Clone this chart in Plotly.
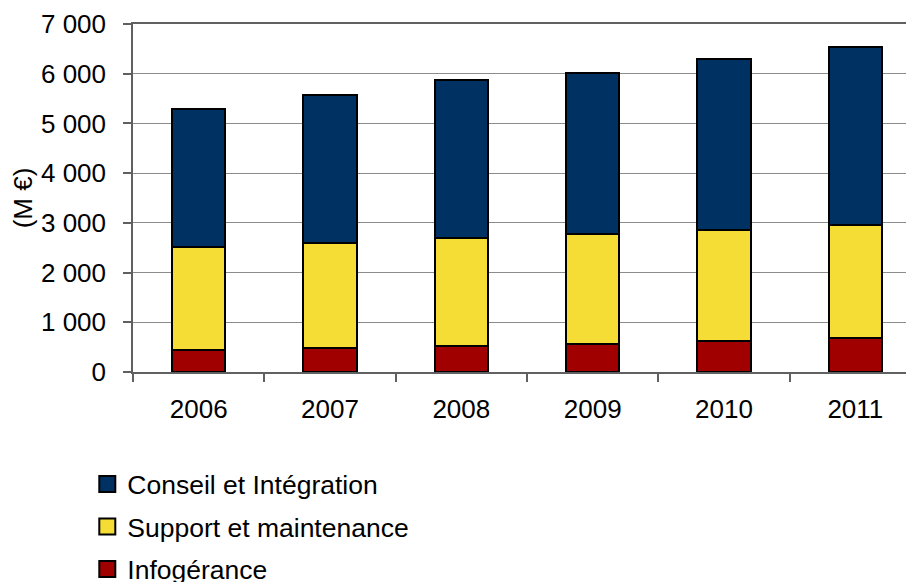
import plotly.graph_objects as go

years = ["2006", "2007", "2008", "2009", "2010", "2011"]
infogerance = [440, 480, 520, 570, 630, 685]
support = [2075, 2120, 2170, 2210, 2230, 2265]
conseil = [2770, 2980, 3180, 3240, 3430, 3590]

series = [
    ("Infogérance", infogerance, "#A10000", 3),
    ("Support et maintenance", support, "#F6DD35", 2),
    ("Conseil et Intégration", conseil, "#003163", 1),
]

FONT = "Liberation Sans, Arial, sans-serif"

fig = go.Figure()
for name, vals, col, rank in series:
    fig.add_trace(go.Bar(
        x=years, y=vals, name=name, width=0.406, showlegend=False,
        marker=dict(color=col, line=dict(color="#000000", width=2)),
    ))
# legend entries (square swatches)
for name, vals, col, rank in series:
    fig.add_trace(go.Scatter(
        x=[None], y=[None], mode="markers", name=name,
        legendgroup=name, legendrank=rank,
        marker=dict(symbol="square", size=16, color=col,
                    line=dict(color="#000000", width=2)),
    ))

fig.update_layout(
    width=914, height=582,
    margin=dict(l=125, r=1, t=16, b=218, autoexpand=False),
    barmode="stack",
    plot_bgcolor="#ffffff", paper_bgcolor="#ffffff",
    separators=", ",
    font=dict(family=FONT, size=26, color="#000000"),
    showlegend=True,
    legend=dict(
        traceorder="grouped",
        orientation="v",
        x=-0.058, xanchor="left",
        y=-0.254, yanchor="top",
        font=dict(family=FONT, size=26.5, color="#000000"),
        bgcolor="rgba(0,0,0,0)",
        tracegroupgap=5,
        itemwidth=30,
    ),
    xaxis=dict(
        type="category", automargin=False,
        range=[-0.5, 5.5],
        showline=True, linecolor="#606060", linewidth=1.5, mirror=True,
        ticks="outside", tickson="boundaries", ticklen=8, tickcolor="#606060", tickwidth=1.5,
        showgrid=False,
        tickfont=dict(family=FONT, size=26, color="#000000"),
        ticklabelstandoff=13,
    ),
    yaxis=dict(
        range=[0, 7000], dtick=1000, tickformat=",d", automargin=False,
        showline=True, linecolor="#606060", linewidth=1.5,
        ticks="outside", ticklen=8, tickcolor="#606060", tickwidth=1.5,
        showgrid=True, gridcolor="#8c8c8c", gridwidth=1,
        zeroline=False,
        tickfont=dict(family=FONT, size=26, color="#000000"),
        ticklabelstandoff=12,
        title=dict(text="(M €)", font=dict(family=FONT, size=26, color="#000000"), standoff=12),
    ),
)

fig.write_html("out.html")
